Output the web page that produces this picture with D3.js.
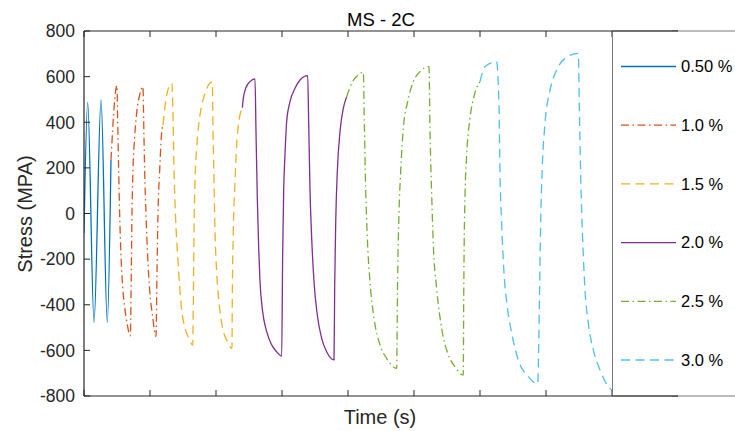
<!DOCTYPE html>
<html>
<head>
<meta charset="utf-8">
<script src="https://cdn.jsdelivr.net/npm/d3@7"></script>
<style>
  html, body { margin: 0; padding: 0; background: #fff; }
  svg { display: block; font-family: "Liberation Sans", Arial, Helvetica, sans-serif; }
</style>
</head>
<body>
<svg id="chart" width="735" height="431"></svg>
<script>
// Stress history of the MS - 2C specimen, two cycles per strain amplitude.
// Each entry is [time, stress in MPa].
const strainLabels = ["0.50 %", "1.0 %", "1.5 %", "2.0 %", "2.5 %", "3.0 %"];

const stress050 = [
  [0, -85], [0.056, 487], [0.152, -477], [0.258, 498], [0.353, -477], [0.409, 235]
];
const stress100 = [
  [0.409, 235], [0.434, 366], [0.46, 483], [0.5, 560],
  [0.51, 410], [0.525, 191], [0.54, 0], [0.561, -189], [0.586, -321], [0.616, -409], [0.652, -481], [0.702, -536],
  [0.717, -248], [0.727, 0], [0.742, 191], [0.768, 337], [0.803, 454], [0.843, 519], [0.894, 556],
  [0.904, 410], [0.919, 191], [0.939, 0], [0.965, -189], [0.995, -335], [1.04, -452], [1.091, -540],
  [1.106, -248], [1.121, 0], [1.147, 191], [1.172, 337], [1.197, 388]
];
const stress150 = [
  [1.197, 388], [1.258, 527], [1.333, 571],
  [1.344, 483], [1.364, 191], [1.389, -28], [1.42, -189], [1.45, -321], [1.475, -409], [1.53, -503], [1.591, -547], [1.647, -577],
  [1.657, -372], [1.667, -80], [1.682, 139], [1.707, 286], [1.758, 432], [1.818, 512], [1.944, 577],
  [1.955, 359], [1.97, 139], [1.985, -80], [2.01, -255], [2.05, -401], [2.1, -503], [2.162, -555], [2.242, -591],
  [2.247, -372], [2.262, -80], [2.288, 139], [2.313, 300], [2.354, 417], [2.399, 464]
];
const stress200 = [
  [2.399, 464], [2.414, 505], [2.45, 549], [2.515, 578], [2.591, 590],
  [2.606, 359], [2.626, 67], [2.647, -153], [2.667, -299], [2.707, -430], [2.768, -518], [2.844, -576], [2.919, -606], [2.995, -625],
  [3.01, -182], [3.026, 110], [3.045, 256], [3.071, 403], [3.121, 490], [3.197, 549], [3.273, 585], [3.389, 604],
  [3.404, 403], [3.424, 110], [3.45, -109], [3.485, -299], [3.535, -445], [3.601, -547], [3.677, -606], [3.788, -642],
  [3.798, -328], [3.814, -36], [3.838, 183], [3.879, 359], [3.929, 461], [3.98, 512]
];
const stress250 = [
  [3.98, 512], [4.056, 571], [4.156, 607], [4.232, 619],
  [4.247, 403], [4.268, 110], [4.293, -109], [4.333, -299], [4.394, -459], [4.485, -576], [4.586, -635], [4.737, -679],
  [4.752, -284], [4.773, 8], [4.798, 183], [4.838, 373], [4.904, 490], [4.99, 578], [5.091, 622], [5.227, 644],
  [5.242, 373], [5.268, 81], [5.293, -138], [5.343, -328], [5.419, -503], [5.52, -620], [5.621, -672], [5.747, -708],
  [5.752, -430], [5.76, -138], [5.773, 81], [5.798, 256], [5.848, 417], [5.914, 519], [6.0, 578]
];
const stress300 = [
  [6.0, 578], [6.076, 644], [6.25, 666],
  [6.288, 468], [6.303, 176], [6.328, -43], [6.364, -262], [6.414, -409], [6.48, -525], [6.58, -642], [6.732, -715], [6.874, -747],
  [6.899, -409], [6.919, -43], [6.944, 205], [6.985, 395], [7.061, 541], [7.162, 629], [7.288, 680], [7.49, 702],
  [7.505, 468], [7.525, 176], [7.556, -116], [7.591, -335], [7.641, -481], [7.717, -598], [7.818, -686], [7.944, -759], [8.1, -790]
];

const yTicks = [-800, -600, -400, -200, 0, 200, 400, 600, 800];
const xTicks = [0, 1, 2, 3, 4, 5, 6, 7, 8, 9];

// Styling per series
const seriesData = [stress050, stress100, stress150, stress200, stress250, stress300];
const colors = ["#0072BD", "#D95319", "#EDB120", "#7E2F8E", "#77AC30", "#4DBEEE"];
const dashes = [null, "8,3.5,1.5,3.5", "9,5.5", null, "8,3.5,1.5,3.5", "9,5.5"];

const svg = d3.select("#chart");
const axisColor = "#262626";

const plotL = 84, plotR = 678, plotT = 31, plotB = 396;
const x = d3.scaleLinear().domain([0, 9]).range([plotL, plotR]);
const y = d3.scaleLinear().domain([-800, 800]).range([plotB, plotT]);

svg.append("defs").append("clipPath").attr("id", "plotClip")
  .append("rect").attr("x", plotL).attr("y", plotT).attr("width", plotR - plotL).attr("height", plotB - plotT);

// Curves
const line = d3.line().x(d => x(d[0])).y(d => y(d[1])).curve(d3.curveMonotoneX);
const plot = svg.append("g").attr("clip-path", "url(#plotClip)");
seriesData.forEach((data, i) => {
  plot.append("path")
    .datum(data)
    .attr("d", line)
    .attr("fill", "none")
    .attr("stroke", colors[i])
    .attr("stroke-width", 1.3)
    .attr("stroke-linejoin", "round")
    .attr("stroke-dasharray", dashes[i]);
});

// Inward tick marks on all four sides
const tickLen = 6;
const ticks = svg.append("g").attr("stroke", axisColor).attr("stroke-width", 1);
xTicks.forEach(t => {
  ticks.append("line").attr("x1", x(t)).attr("x2", x(t)).attr("y1", plotB).attr("y2", plotB - tickLen);
  ticks.append("line").attr("x1", x(t)).attr("x2", x(t)).attr("y1", plotT).attr("y2", plotT + tickLen);
});
yTicks.forEach(v => {
  ticks.append("line").attr("x1", plotL).attr("x2", plotL + tickLen).attr("y1", y(v)).attr("y2", y(v));
  ticks.append("line").attr("x1", plotR).attr("x2", plotR - tickLen).attr("y1", y(v)).attr("y2", y(v));
});

// Legend box sitting over the right part of the axes
const legX = 612;
const legend = svg.append("g");
legend.append("rect")
  .attr("x", legX + 0.5).attr("y", plotT).attr("width", 200).attr("height", plotB - plotT)
  .attr("fill", "#fff").attr("stroke", "#7a7a7a").attr("stroke-width", 1);
const legY = d3.scalePoint().domain(strainLabels).range([66.5, 360]);
strainLabels.forEach((lab, i) => {
  const yy = legY(lab);
  legend.append("line")
    .attr("x1", 621).attr("x2", 676).attr("y1", yy).attr("y2", yy)
    .attr("stroke", colors[i]).attr("stroke-width", 1.3)
    .attr("stroke-dasharray", dashes[i]);
  legend.append("text")
    .attr("x", 681).attr("y", yy).attr("dy", "0.35em")
    .attr("font-size", 16.5).attr("fill", "#000")
    .text(lab);
});

// Axes frame (top and bottom run to the axes' right edge)
const frame = svg.append("g").attr("stroke", axisColor).attr("stroke-width", 1.2).attr("fill", "none");
frame.append("line").attr("x1", plotL).attr("x2", plotL).attr("y1", plotT).attr("y2", plotB);
frame.append("line").attr("x1", plotL).attr("x2", plotR).attr("y1", plotT).attr("y2", plotT);
frame.append("line").attr("x1", plotL).attr("x2", plotR).attr("y1", plotB).attr("y2", plotB);

// Y tick labels
svg.append("g").selectAll("text").data(yTicks).join("text")
  .attr("x", 75).attr("y", d => y(d)).attr("dy", "0.36em")
  .attr("text-anchor", "end").attr("font-size", 17.5).attr("fill", axisColor)
  .text(d => d);

// Title and axis labels
svg.append("text").attr("x", (plotL + plotR) / 2).attr("y", 26)
  .attr("text-anchor", "middle").attr("font-size", 18.5).attr("fill", "#000")
  .text("MS - 2C");
svg.append("text").attr("x", 380).attr("y", 424)
  .attr("text-anchor", "middle").attr("font-size", 20).attr("fill", axisColor)
  .text("Time (s)");
svg.append("text").attr("transform", "translate(32,214) rotate(-90)")
  .attr("text-anchor", "middle").attr("font-size", 20).attr("fill", axisColor)
  .text("Stress (MPA)");
</script>
</body>
</html>
